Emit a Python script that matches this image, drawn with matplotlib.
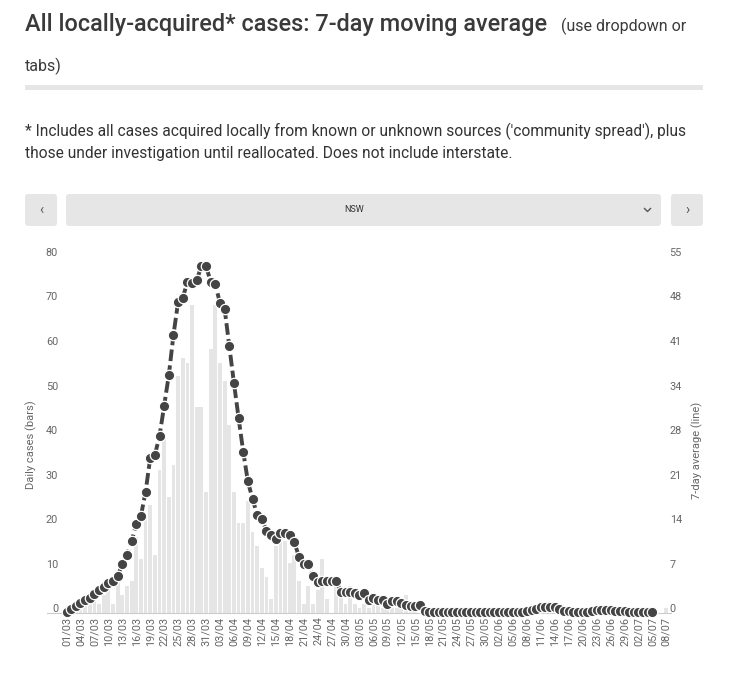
import numpy as np
import pandas as pd
import matplotlib
matplotlib.use("Agg")
import matplotlib.pyplot as plt
from matplotlib.patches import FancyBboxPatch
from matplotlib.transforms import ScaledTranslation

# ---- data (NSW) ----
dates = pd.date_range("2020-03-01", "2020-07-08", freq="D")
day_labels = [d.strftime("%d/%m") for d in dates]

daily_mar = [0, 0, 1, 1, 2, 2, 4, 2, 4, 6, 2, 7, 4, 6, 7, 17, 12, 21, 24, 13,
             32, 40, 26, 33, 53, 57, 56, 69, 46, 46, 27]
daily_apr = [59, 69, 56, 52, 42, 27, 20, 20, 25, 18, 15, 10, 8, 3, 15, 16, 16, 11, 13, 7,
             2, 6, 2, 5, 12, 3, 0, 6, 4, 2]
daily_may = [6, 2, 1, 2, 1, 2, 2, 1, 1, 1, 1, 1, 4, 1, 1, 0, 0, 0, 0, 0,
             1, 0, 0, 0, 0, 0, 0, 1, 0, 0, 0]
daily_jun = [0, 0, 1, 0, 0, 0, 0, 0, 0, 1, 0, 1, 2, 1, 1, 0, 0, 0, 0, 0,
             0, 1, 0, 1, 0, 1, 0, 0, 0, 0]
daily_jul = [0, 0, 0, 0, 0, 0, 0, 1]
daily_cases = daily_mar + daily_apr + daily_may + daily_jun + daily_jul

# 7-day average (right axis), 01/03 .. 05/07
avg_7day = [0.1, 0.5, 1.0, 1.4, 1.9, 2.3, 2.8, 3.4, 4.0, 4.5,
            4.8, 5.6, 7.5, 8.9, 11.0, 13.6, 14.9, 18.6, 23.8, 24.3,
            27.2, 31.9, 36.6, 42.8, 47.9, 48.5, 51.0, 50.8, 51.2, 53.4,
            53.4, 51.0, 50.6, 47.7, 46.8, 41.1, 35.4, 30.0, 24.8, 20.2,
            17.5, 15.1, 14.4, 12.6, 11.9, 11.4, 12.2, 12.3, 11.9, 10.8,
            8.6, 7.5, 7.5, 5.6, 4.7, 4.9, 4.9, 4.9, 4.9, 3.2,
            3.1, 3.2, 3.0, 2.7, 3.0, 2.0, 2.2, 2.0, 1.9, 1.3,
            1.8, 1.7, 1.5, 1.2, 1.0, 1.0, 1.2, 0.3, 0.1, 0.1,
            0.1, 0.1, 0.1, 0.1, 0.1, 0.1, 0.1, 0.1, 0.1, 0.1,
            0.1, 0.1, 0.1, 0.1, 0.1, 0.1, 0.1, 0.1, 0.1, 0.3,
            0.4, 0.6, 0.8, 0.9, 0.9, 0.8, 0.6, 0.3, 0.3, 0.1,
            0.1, 0.1, 0.1, 0.3, 0.4, 0.4, 0.4, 0.4, 0.3, 0.3,
            0.3, 0.1, 0.1, 0.1, 0.1, 0.1, 0.1]

left_ticks = [0, 10, 20, 30, 40, 50, 60, 70, 80]
right_tick_labels = ["0", "7", "14", "21", "28", "34", "41", "48", "55"]
right_max = 55

title = "All locally-acquired* cases: 7-day moving average"
title_note = "(use dropdown or"
title_note2 = "tabs)"
footnote = ["* Includes all cases acquired locally from known or unknown sources ('community spread'), plus",
            "those under investigation until reallocated. Does not include interstate."]
region = "NSW"

plt.rcParams["font.family"] = ["Roboto", "DejaVu Sans"]

W, H = 732, 675
fig = plt.figure(figsize=(W / 100, H / 100), dpi=100)

# background layer in pixel coordinates for the page furniture
bg = fig.add_axes([0, 0, 1, 1])
bg.set_xlim(0, W)
bg.set_ylim(H, 0)
bg.axis("off")

bg.text(25, 31, title, fontsize=16.9, color="#3a3a3a", va="baseline", fontweight="medium")
bg.text(561, 31, title_note, fontsize=11.5, color="#3a3a3a", va="baseline")
bg.text(25, 71, title_note2, fontsize=11.5, color="#3a3a3a", va="baseline")
bg.add_patch(FancyBboxPatch((25, 85), 678, 5, boxstyle="square,pad=0", fc="#e6e6e6", ec="none"))
bg.text(25, 136, footnote[0], fontsize=11.2, color="#333333", va="baseline")
bg.text(25, 158, footnote[1], fontsize=11.2, color="#333333", va="baseline")

for x0, w in [(25, 32), (66, 595), (671, 32)]:
    bg.add_patch(FancyBboxPatch((x0, 194), w, 32, boxstyle="round,pad=0,rounding_size=3",
                                fc="#e6e6e6", ec="none"))
bg.text(41, 210, "\u2039", fontsize=10, color="#555555", ha="center", va="center")
bg.text(687, 210, "\u203a", fontsize=10, color="#555555", ha="center", va="center")
bg.text(354, 210, region, fontsize=6.5, color="#333333", ha="center", va="center")
bg.plot([644.5, 647.5, 650.5], [208.5, 211.5, 208.5], color="#555555", lw=1)

# ---- chart ----
x = np.arange(len(daily_cases))
ax = fig.add_axes([47 / W, 62.5 / H, 624 / W, 356.8 / H])
ax.bar(x, daily_cases, width=0.82, color="#e5e5e5", zorder=1)
ax.set_xlim(-4.2, 130)
ax.set_ylim(0, 80)
ax.set_yticks(left_ticks)
ax.set_xticks(x[::3])
ax.set_xticklabels(day_labels[::3], rotation=90, fontsize=7.8, color="#666666")
ax.tick_params(axis="x", length=0, pad=3)
ax.tick_params(axis="y", length=0, pad=-8, labelsize=7.8, labelcolor="#666666")
for s in ["top", "left", "right"]:
    ax.spines[s].set_visible(False)
ax.spines["bottom"].set_color("#cccccc")
ax.patch.set_alpha(0)

ax2 = ax.twinx()
ax2.plot(x[:len(avg_7day)], avg_7day, color="#444444", lw=2.8, dashes=[3, 1.1],
         marker="o", markersize=7.5, markerfacecolor="#444444",
         markeredgecolor="white", markeredgewidth=0.9, clip_on=False, zorder=3)
ax2.set_ylim(0, right_max)
ax2.set_yticks(np.linspace(0, right_max, len(right_tick_labels)))
ax2.set_yticklabels(right_tick_labels)
ax2.tick_params(axis="y", length=0, pad=-1, labelsize=7.8, labelcolor="#666666")
for s in ax2.spines.values():
    s.set_visible(False)

# tick labels in the reference sit a few pixels above their value
shift = ScaledTranslation(0, 4 / 100, fig.dpi_scale_trans)
for lab in ax.get_yticklabels() + ax2.get_yticklabels():
    lab.set_transform(lab.get_transform() + shift)

bg.text(31, 445, "Daily cases (bars)", rotation=90, fontsize=8, color="#666666",
        ha="center", va="center")
bg.text(697, 450, "7-day average (line)", rotation=90, fontsize=8, color="#666666",
        ha="center", va="center")

fig.savefig("out.png", dpi=100)
